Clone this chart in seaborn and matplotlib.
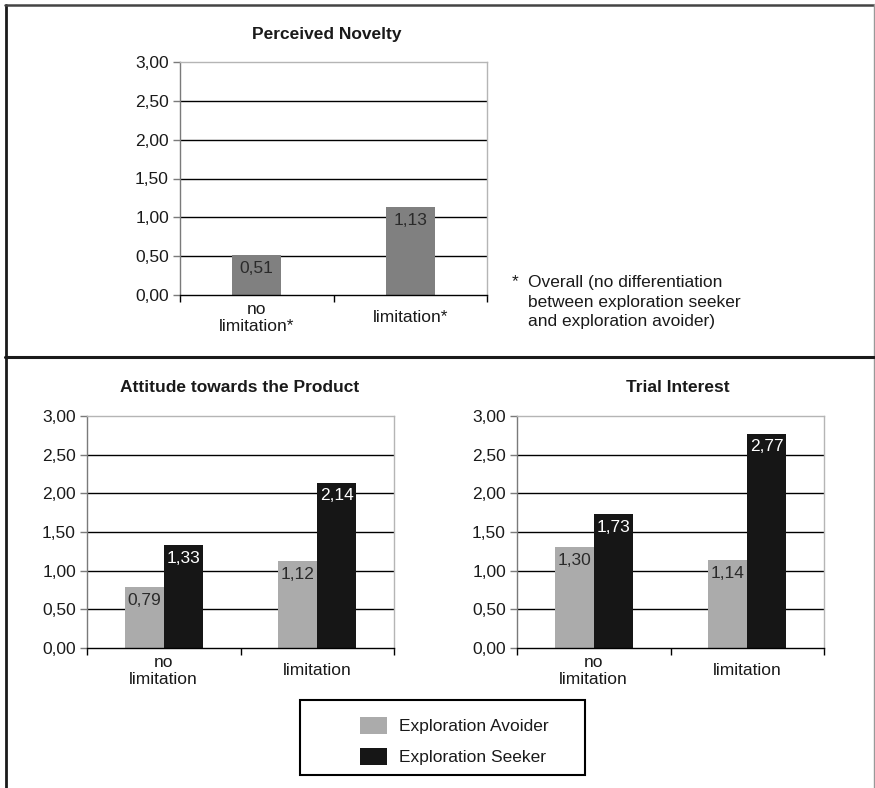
import numpy as np
import pandas as pd
import matplotlib
matplotlib.use("Agg")
import matplotlib.pyplot as plt
from matplotlib.lines import Line2D
from matplotlib.patches import Rectangle, Patch
import seaborn as sns

# ---- data ----
novelty_conditions = ["no\nlimitation*", "limitation*"]
novelty_values = [0.51, 1.13]

conditions = ["no\nlimitation", "limitation"]
groups = ["Exploration Avoider", "Exploration Seeker"]
attitude_avoider = [0.79, 1.12]
attitude_seeker = [1.33, 2.14]
trial_avoider = [1.30, 1.14]
trial_seeker = [1.73, 2.77]

y_ticks = [0.0, 0.5, 1.0, 1.5, 2.0, 2.5, 3.0]
y_tick_labels = ["0,00", "0,50", "1,00", "1,50", "2,00", "2,50", "3,00"]

titles = ["Perceived Novelty", "Attitude towards the Product", "Trial Interest"]
footnote = "Overall (no differentiation\nbetween exploration seeker\nand exploration avoider)"

# ---- style ----
sns.set_style("white")
plt.rcParams["font.family"] = ["Liberation Sans", "DejaVu Sans"]
FS = 12.5
TXT = "#1a1a1a"
C_NOV = "#808080"
C_AVOID = "#ababab"
C_SEEK = "#161616"

W, H = 875, 788
fig = plt.figure(figsize=(W / 100, H / 100), dpi=100)
fig.patch.set_facecolor("white")


def px_axes(left, top, right, bottom):
    return fig.add_axes([left / W, 1 - bottom / H, (right - left) / W, (bottom - top) / H])


def fmt(v):
    return f"{v:.2f}".replace(".", ",")


def style_axes(ax):
    ax.set_facecolor("white")
    ax.set_xlim(-0.5, 1.5)
    ax.set_ylim(0, 3.0)
    ax.set_yticks(y_ticks)
    ax.set_yticklabels(y_tick_labels, fontsize=FS, color=TXT)
    for yv in y_ticks[1:-1]:
        ax.axhline(yv, color="black", lw=1.0, zorder=0.5)
    ax.spines["left"].set_color("#7a7a7a")
    ax.spines["top"].set_color("#b5b5b5")
    ax.spines["right"].set_color("#b5b5b5")
    ax.spines["bottom"].set_color("black")
    for s in ax.spines.values():
        s.set_linewidth(1.0)
        s.set_zorder(3)
    ax.tick_params(axis="y", direction="out", length=5, width=1, color="#7a7a7a", pad=3, left=True)
    ax.set_xticks([0, 1])
    ax.set_xticks([-0.5, 0.5, 1.5], minor=True)
    ax.tick_params(axis="x", which="major", length=0, pad=16.5, labelsize=FS, labelcolor=TXT)
    ax.tick_params(axis="x", which="minor", direction="out", length=5, width=1, color="black", bottom=True)
    for lab in ax.get_xticklabels():
        lab.set_verticalalignment("center")
        lab.set_linespacing(1.18)
    ax.set_xlabel("")
    ax.set_ylabel("")
    if ax.get_legend() is not None:
        ax.get_legend().remove()


def label_bars(ax, container, values, color):
    for patch, v in zip(container.patches, values):
        ax.annotate(fmt(v), (patch.get_x() + patch.get_width() / 2, patch.get_height()),
                    xytext=(0, -9.5), textcoords="offset points", ha="center", va="center",
                    fontsize=FS, color=color, zorder=5)


# ---- Perceived Novelty ----
ax1 = px_axes(180, 62, 487, 295)
df_nov = pd.DataFrame({"condition": novelty_conditions, "value": novelty_values})
sns.barplot(data=df_nov, x="condition", y="value", color=C_NOV, saturation=1,
            width=0.32, ax=ax1, zorder=2, edgecolor="none", linewidth=0)
style_axes(ax1)
label_bars(ax1, ax1.containers[0], novelty_values, "#2a2a2a")


# ---- grouped panels ----
def grouped(ax, avoid, seek):
    df = pd.DataFrame({
        "condition": conditions * 2,
        "group": [groups[0]] * 2 + [groups[1]] * 2,
        "value": list(avoid) + list(seek),
    })
    sns.barplot(data=df, x="condition", y="value", hue="group", hue_order=groups,
                palette=[C_AVOID, C_SEEK], saturation=1, width=0.51, ax=ax, zorder=2,
                edgecolor="none", linewidth=0)
    style_axes(ax)
    label_bars(ax, ax.containers[0], avoid, "#2a2a2a")
    label_bars(ax, ax.containers[1], seek, "white")


ax2 = px_axes(87, 416, 394, 648)
grouped(ax2, attitude_avoider, attitude_seeker)
ax3 = px_axes(517, 416, 824, 648)
grouped(ax3, trial_avoider, trial_seeker)

# ---- titles ----
for (x, y), t in zip([(327, 34), (240, 388), (678, 388)], titles):
    fig.text(x / W, 1 - y / H, t, ha="center", va="center", fontsize=FS, fontweight="bold", color=TXT)

# ---- footnote ----
fig.text(515 / W, 1 - 282 / H, "*", ha="center", va="center", fontsize=FS, color=TXT)
fig.text(528 / W, 1 - 302 / H, footnote, ha="left", va="center", fontsize=FS, color=TXT, linespacing=1.36)

# ---- legend ----
handles = [Patch(facecolor=C_AVOID, edgecolor="none"), Patch(facecolor=C_SEEK, edgecolor="none")]
fig.legend(handles, groups, loc="center", bbox_to_anchor=(454 / W, 1 - 741 / H),
           frameon=False, fontsize=FS, handlelength=1.55, handleheight=1.15,
           handletextpad=0.7, labelspacing=0.75, borderpad=0, labelcolor=TXT)
fig.add_artist(Rectangle((300 / W, 1 - 775 / H), 285 / W, 75 / H, transform=fig.transFigure,
                         fill=False, edgecolor="black", lw=1.5))


# ---- frame around the panels ----
def fig_line(x0, y0, x1, y1, color, lw):
    fig.add_artist(Line2D([x0 / W, x1 / W], [1 - y0 / H, 1 - y1 / H],
                          transform=fig.transFigure, color=color, lw=lw))


fig_line(5.5, 4.5, 5.5, H, "#1a1a1a", 2.0)
fig_line(5, 4.5, 875, 4.5, "#444444", 1.8)
fig_line(873.5, 4, 873.5, H, "#999999", 1.0)
fig_line(5, 357, 874, 357, "#1a1a1a", 2.2)

fig.savefig("out.png", dpi=100, facecolor="white")
